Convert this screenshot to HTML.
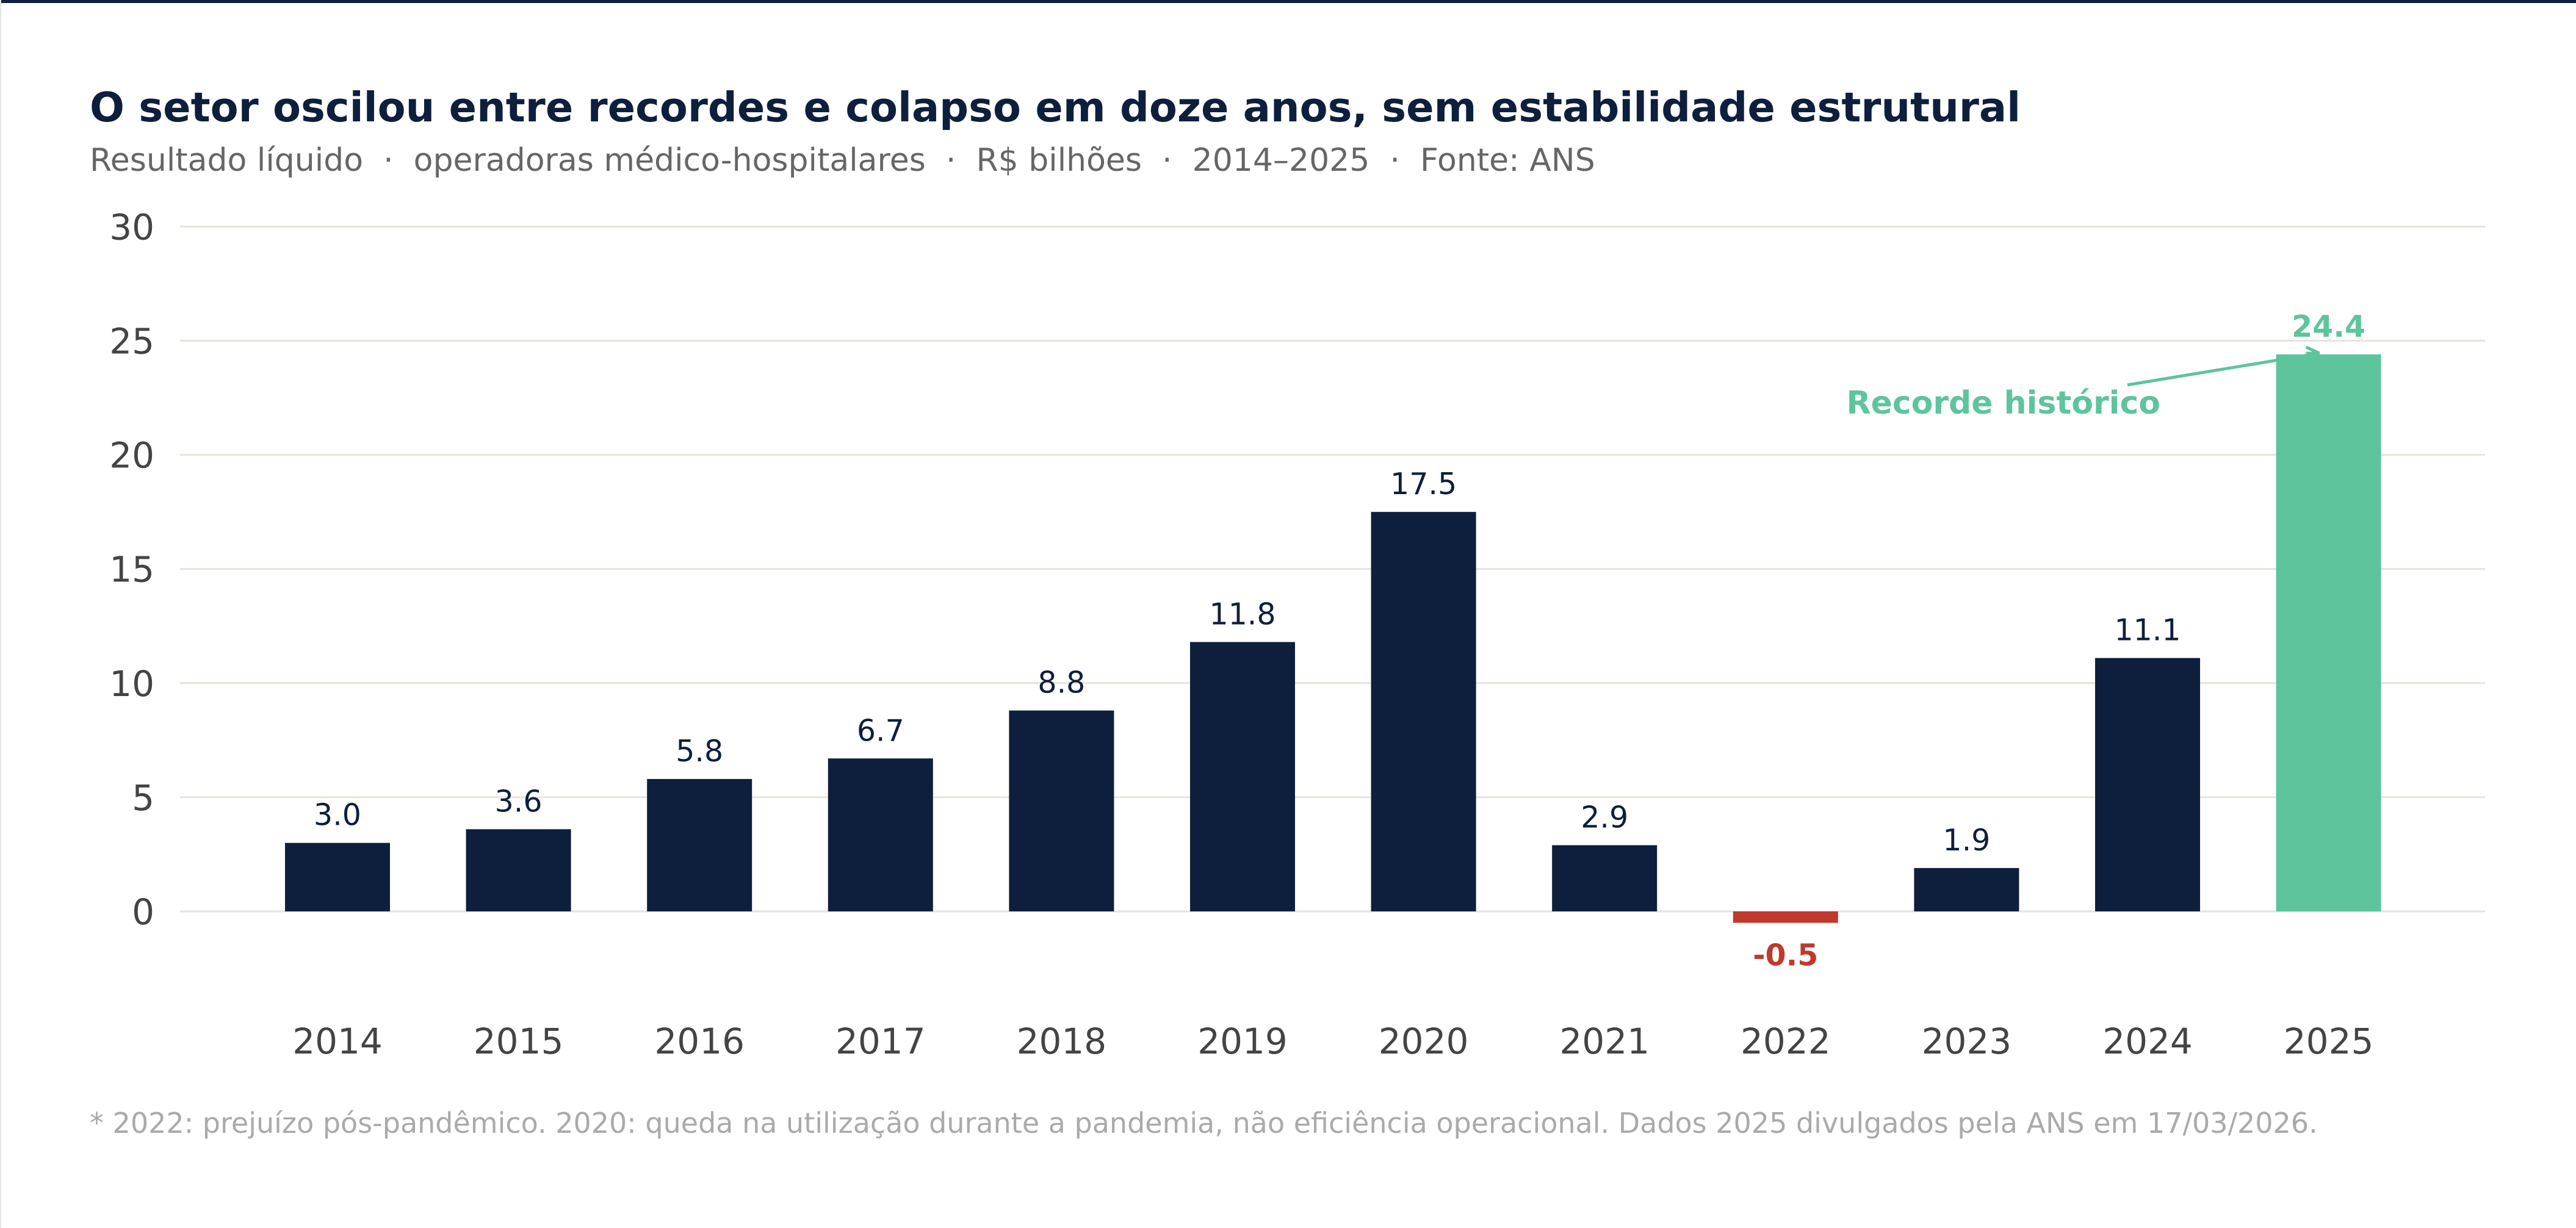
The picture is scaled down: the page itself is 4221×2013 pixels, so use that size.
<!DOCTYPE html>
<html><head><meta charset="utf-8"><style>
html,body{margin:0;padding:0;background:#fff}
svg{display:block;font-family:"DejaVu Sans","Liberation Sans",sans-serif}
text{white-space:pre}
</style></head><body>
<svg id="chart" width="4221" height="2013" viewBox="0 0 4221 2013" xmlns="http://www.w3.org/2000/svg">
<rect x="0" y="0" width="4221" height="2013" fill="#fff"/>
<rect x="0" y="0" width="4221" height="5" fill="#0d1f3c"/>
<rect x="0" y="0" width="2" height="2013" fill="#e4e4e0"/>
<text x="147" y="199" font-size="67" font-weight="bold" fill="#0d1f3c">O setor oscilou entre recordes e colapso em doze anos, sem estabilidade estrutural</text>
<text x="147" y="280" font-size="52" fill="#666" xml:space="preserve">Resultado líquido  ·  operadoras médico-hospitalares  ·  R$ bilhões  ·  2014–2025  ·  Fonte: ANS</text>
<g id="grid"></g>
<g id="yticks"></g>
<g id="bars"></g>
<g id="labels"></g>
<g id="xticks"></g>
<g id="annot"></g>
<text x="147" y="1857" font-size="46" fill="#aaa">* 2022: prejuízo pós-pandêmico. 2020: queda na utilização durante a pandemia, não eficiência operacional. Dados 2025 divulgados pela ANS em 17/03/2026.</text>
</svg>
<script>
const categories = ["2014","2015","2016","2017","2018","2019","2020","2021","2022","2023","2024","2025"];
const values = [3.0,3.6,5.8,6.7,8.8,11.8,17.5,2.9,-0.5,1.9,11.1,24.4];
const yTicks = [0,5,10,15,20,25,30];
const annotationText = "Recorde histórico";

const NS = "http://www.w3.org/2000/svg";
const y0 = 1494, pxPerUnit = 37.42;
const yScale = v => y0 - v * pxPerUnit;
const xCenter = i => 553 + i * 296.6;
const barW = 172, gridL = 295, gridR = 4072;
function mk(tag, attrs, parent, text) {
  const el = document.createElementNS(NS, tag);
  for (const k in attrs) el.setAttribute(k, attrs[k]);
  if (text !== undefined) el.textContent = text;
  parent.appendChild(el);
  return el;
}
const grid = document.getElementById('grid'), yt = document.getElementById('yticks');
yTicks.forEach(t => {
  const l = mk('line', {x1: gridL, x2: gridR, y1: yScale(t), y2: yScale(t), stroke: '#e8e4dc', 'stroke-width': 3}, grid);
  
  
  const tx = mk('text', {x: 253, y: yScale(t) + 21, 'font-size': 58, fill: '#444', 'text-anchor': 'end'}, yt, String(t));
  
  
});
const bars = document.getElementById('bars'), labels = document.getElementById('labels'), xt = document.getElementById('xticks');
const maxV = Math.max(...values);
values.forEach((v, i) => {
  const cx = xCenter(i);
  const isMax = v === maxV, isNeg = v < 0;
  const color = isMax ? '#5ec49c' : (isNeg ? '#c0392b' : '#0d1f3c');
  const top = Math.min(yScale(v), y0), h = Math.abs(yScale(v) - y0);
  const r = mk('rect', {x: cx - barW / 2, y: top, width: barW, height: h, fill: color}, bars);
  
  
  let ly, attrs = {x: cx, 'text-anchor': 'middle', 'font-size': 49, fill: color};
  if (isNeg) { ly = yScale(v) + 70; attrs['font-weight'] = 'bold'; }
  else { ly = yScale(v) - 29; if (isMax) attrs['font-weight'] = 'bold'; }
  attrs.y = ly;
  const t = mk('text', attrs, labels, v.toFixed(1));
  
  
  const xl = mk('text', {x: cx, y: 1727, 'text-anchor': 'middle', 'font-size': 58, fill: '#444'}, xt, categories[i]);
  
  
});
const an = document.getElementById('annot');
const mi = values.indexOf(maxV);
const ax = xCenter(mi) - 15, ay = yScale(maxV) - 2;
const line = mk('line', {x1: 3486, y1: 631, x2: ax, y2: ay, stroke: '#5ec49c', 'stroke-width': 5}, an);


const head = mk('path', {d: `M${ax - 22} ${ay - 10} L${ax} ${ay} L${ax - 22} ${ay + 0}`, stroke: '#5ec49c', 'stroke-width': 5, fill: 'none'}, an);


const at = mk('text', {x: 3540, y: 678, 'text-anchor': 'end', 'font-size': 52, 'font-weight': 'bold', fill: '#5ec49c'}, an, annotationText);


</script>
</body></html>
